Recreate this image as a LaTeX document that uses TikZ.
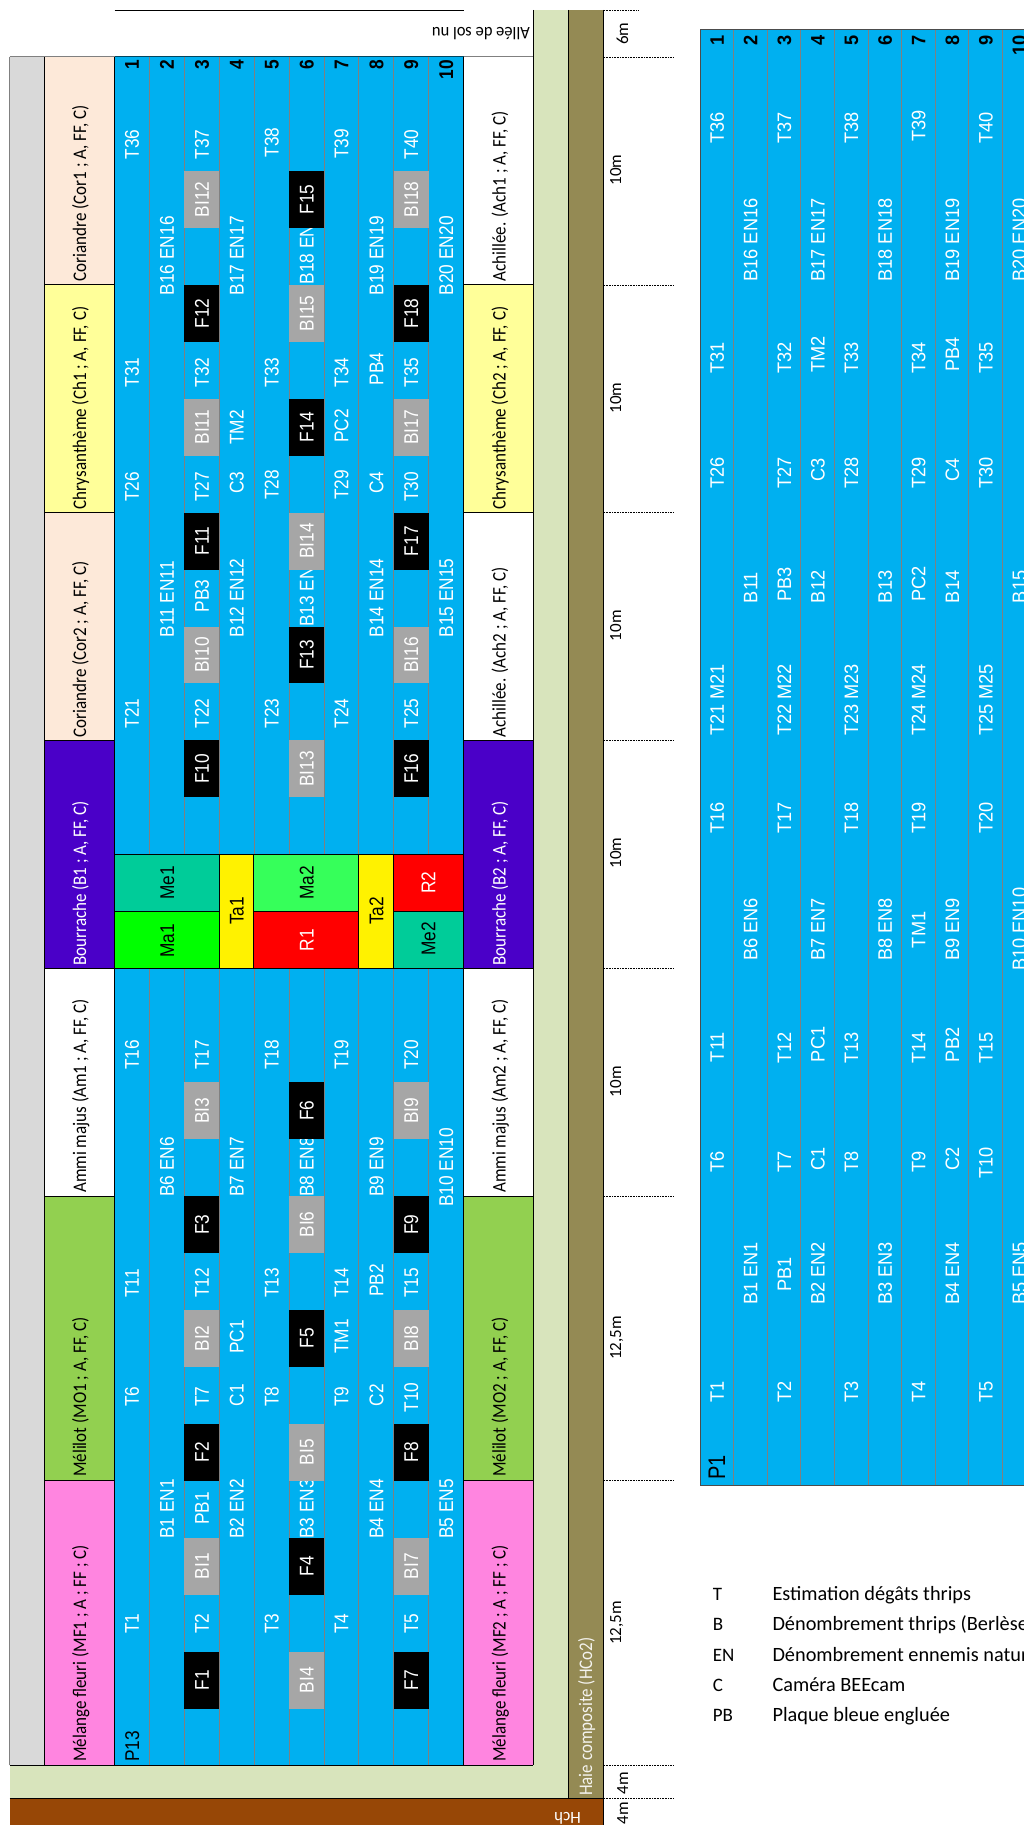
\documentclass[tikz,border=0pt]{standalone}
\usepackage{fontspec}
\usepackage{graphicx}
\setmainfont{Liberation Sans}
\newfontfamily\calfont{Carlito}
\definecolor{cblue}{HTML}{00B0F0}
\definecolor{cgray}{HTML}{D9D9D9}
\definecolor{cbi}{HTML}{A6A6A6}
\definecolor{cpale}{HTML}{D8E4BC}
\definecolor{colive}{HTML}{948A54}
\definecolor{cbrown}{HTML}{974706}
\definecolor{ccor}{HTML}{FDE9D9}
\definecolor{cch}{HTML}{FFFF99}
\definecolor{cbou}{HTML}{4A00C8}
\definecolor{cmel}{HTML}{92D050}
\definecolor{cmix}{HTML}{FF85E0}
\definecolor{cme}{HTML}{00CC99}
\definecolor{cma}{HTML}{00FF00}
\definecolor{cmb}{HTML}{36FF5A}
\tikzset{
  rtxt/.style={inner sep=0pt,rotate=90,anchor=base west,text=white},
  ctxt/.style={inner sep=0pt,rotate=90,anchor=base,text=white},
  numtxt/.style={inner sep=0pt,rotate=90,anchor=base east,text=black},
  hline/.style={draw=black,line width=.9pt},
  rowline/.style={draw=gray,line width=.8pt},
  tick/.style={draw=black,line width=.6pt,densely dotted},
  blockbox/.style={draw=black,line width=.8pt}
}
\newcommand{\Lfont}{\fontsize{17.3}{20}\selectfont}
\newcommand{\Rfont}{\fontsize{18.2}{20}\selectfont}
\newcommand{\Hfont}{\calfont\fontsize{17}{20}\selectfont}
\newcommand{\Lt}[3]{\pgfmathsetmacro\xx{114.5+34.91*(#1-.5)+7}\node[rtxt] at (\xx,#2) {\scalebox{1}[1.15]{\Lfont #3}};}
\newcommand{\Rt}[3]{\pgfmathsetmacro\xx{700+33.6*(#1-.5)+7}\node[rtxt] at (\xx,#2) {\scalebox{1}[1.07]{\Rfont #3}};}
\newcommand{\CF}[3]{\pgfmathsetmacro\xa{114.5+34.91*(#1-1)}\pgfmathsetmacro\xb{\xa+34.91}\pgfmathsetmacro\ya{57+56.95*#2}\pgfmathsetmacro\yb{\ya+56.95}\pgfmathsetmacro\xc{\xa+17.45+7}\pgfmathsetmacro\yc{\ya+28.5}%
  \fill[black] (\xa,\ya) rectangle (\xb,\yb);\node[ctxt] at (\xc,\yc) {\scalebox{1}[1.15]{\Lfont #3}};}
\newcommand{\CB}[3]{\pgfmathsetmacro\xa{114.5+34.91*(#1-1)}\pgfmathsetmacro\xb{\xa+34.91}\pgfmathsetmacro\ya{57+56.95*#2}\pgfmathsetmacro\yb{\ya+56.95}\pgfmathsetmacro\xc{\xa+17.45+7}\pgfmathsetmacro\yc{\ya+28.5}%
  \fill[cbi] (\xa,\ya) rectangle (\xb,\yb);\node[ctxt] at (\xc,\yc) {\scalebox{1}[1.15]{\Lfont #3}};}
\begin{document}
\begin{tikzpicture}[x=1pt,y=-1pt]
\useasboundingbox (0,0) rectangle (1024,1825);
\clip (0,0) rectangle (1024,1825);
\fill[white] (0,0) rectangle (1024,1825);
% ground bands
\fill[cpale] (533.4,10) rectangle (568.5,1798);
\fill[cpale] (9.5,1765.4) rectangle (533.4,1798);
\fill[colive] (568.5,10) rectangle (603.6,1798);
\fill[cbrown] (9.5,1798) rectangle (603.6,1825);
\fill[cgray] (9.5,57) rectangle (44.2,1765.4);
\fill[cblue] (114.5,57) rectangle (463.6,1765.4);
% headers
\foreach \ya/\yb/\ca/\cb in {57/284.8/ccor/white,284.8/512.6/cch/cch,512.6/740.4/ccor/white,740.4/968.2/cbou/cbou,968.2/1196/white/white,1196/1480.7/cmel/cmel,1480.7/1765.4/cmix/cmix}{
  \fill[\ca] (44.2,\ya) rectangle (114.5,\yb);
  \fill[\cb] (463.6,\ya) rectangle (533.4,\yb);
}
% row lines
\foreach \i in {1,...,9}{
  \pgfmathsetmacro\xx{114.5+34.91*\i}
  \draw[rowline] (\xx,57) -- (\xx,1765.4);
}
% centre blocks
\draw[blockbox,fill=cme] (114.5,854.2) rectangle (219,911.2);
\draw[blockbox,fill=cma] (114.5,911.2) rectangle (219,968.2);
\draw[blockbox,fill=yellow] (219,854.2) rectangle (253.7,968.2);
\draw[blockbox,fill=cmb] (253.7,854.2) rectangle (358.6,911.2);
\draw[blockbox,fill=red] (253.7,911.2) rectangle (358.6,968.2);
\draw[blockbox,fill=yellow] (358.6,854.2) rectangle (393.3,968.2);
\draw[blockbox,fill=red] (393.3,854.2) rectangle (463.6,911.2);
\draw[blockbox,fill=cme] (393.3,911.2) rectangle (463.6,968.2);
\node[ctxt,text=black] (me1) at (174,882.7) {\scalebox{1}[1.15]{\Lfont Me1}};
\node[ctxt,text=black] (ma1) at (174,940.8) {\scalebox{1}[1.15]{\Lfont Ma1}};
\node[ctxt,text=black] (ta1) at (243.7,911) {\scalebox{1}[1.15]{\Lfont Ta1}};
\node[ctxt,text=black] (ma2) at (313.6,882.7) {\scalebox{1}[1.15]{\Lfont Ma2}};
\node[ctxt] (r1) at (313.6,940) {\scalebox{1}[1.15]{\Lfont R1}};
\node[ctxt,text=black] (ta2) at (383.4,911) {\scalebox{1}[1.15]{\Lfont Ta2}};
\node[ctxt] (r2) at (435.4,882.7) {\scalebox{1}[1.15]{\Lfont R2}};
\node[ctxt,text=black] (me2) at (435.4,939) {\scalebox{1}[1.15]{\Lfont Me2}};
% header labels
\foreach \yy/\tx/\co in {281.5/{Coriandre (Cor1 ; A, FF, C)}/black,509.3/{Chrysanthème (Ch1 ; A, FF, C)}/black,737.6/{Coriandre (Cor2 ; A, FF, C)}/black,965.8/{Bourrache (B1 ; A, FF, C)}/white,1193/{Ammi majus (Am1 ; A, FF, C)}/black,1477/{Mélilot (MO1 ; A, FF, C)}/black,1762/{Mélange fleuri (MF1 ; A ; FF ; C)}/black}{
  \node[rtxt,text=\co] at (86,\yy) {\scalebox{1}[1.13]{\Hfont\tx}};
}
\foreach \yy/\tx/\co in {281.5/{Achillée. (Ach1 ; A, FF, C)}/black,509.3/{Chrysanthème (Ch2 ; A, FF, C)}/black,737.6/{Achillée. (Ach2 ; A, FF, C)}/black,965.8/{Bourrache (B2 ; A, FF, C)}/white,1193/{Ammi majus (Am2 ; A, FF, C)}/black,1477/{Mélilot (MO2 ; A, FF, C)}/black,1762/{Mélange fleuri (MF2 ; A ; FF ; C)}/black}{
  \node[rtxt,text=\co] at (505.5,\yy) {\scalebox{1}[1.13]{\Hfont\tx}};
}
% left texts
\Lt{1}{1634}{T1}\Lt{1}{1407}{T6}\Lt{1}{1298}{T11}\Lt{1}{1070}{T16}\Lt{1}{728.5}{T21}\Lt{1}{502}{T26}\Lt{1}{387.5}{T31}\Lt{1}{159.4}{T36}
\Lt{2}{1539}{B1 EN1}\Lt{2}{1197}{B6 EN6}\Lt{2}{637.6}{B11 EN11}\Lt{2}{295.4}{B16 EN16}
\Lt{3}{1634}{T2}\Lt{3}{1525}{PB1}\Lt{3}{1407}{T7}\Lt{3}{1298}{T12}\Lt{3}{1070}{T17}\Lt{3}{728.5}{T22}\Lt{3}{612.6}{PB3}\Lt{3}{502}{T27}\Lt{3}{387.5}{T32}\Lt{3}{159.4}{T37}
\Lt{4}{1539}{B2 EN2}\Lt{4}{1406.5}{C1}\Lt{4}{1354}{PC1}\Lt{4}{1197}{B7 EN7}\Lt{4}{637.6}{B12 EN12}\Lt{4}{494}{C3}\Lt{4}{444.8}{TM2}\Lt{4}{295.4}{B17 EN17}
\Lt{5}{1634}{T3}\Lt{5}{1407}{T8}\Lt{5}{1298}{T13}\Lt{5}{1070}{T18}\Lt{5}{728.5}{T23}\Lt{5}{500}{T28}\Lt{5}{387.5}{T33}\Lt{5}{157.4}{T38}
\Lt{6}{1539}{B3 EN3}\Lt{6}{1197}{B8 EN8}\Lt{6}{626.9}{B13 EN}\Lt{6}{284.7}{B18 EN}
\Lt{7}{1634}{T4}\Lt{7}{1407}{T9}\Lt{7}{1354}{TM1}\Lt{7}{1298}{T14}\Lt{7}{1070}{T19}\Lt{7}{728.5}{T24}\Lt{7}{500}{T29}\Lt{7}{443}{PC2}\Lt{7}{387.5}{T34}\Lt{7}{159}{T39}
\Lt{8}{1539}{B4 EN4}\Lt{8}{1406.5}{C2}\Lt{8}{1297}{PB2}\Lt{8}{1197}{B9 EN9}\Lt{8}{637.6}{B14 EN14}\Lt{8}{494}{C4}\Lt{8}{385.5}{PB4}\Lt{8}{295.4}{B19 EN19}
\Lt{9}{1634}{T5}\Lt{9}{1412.4}{T10}\Lt{9}{1298}{T15}\Lt{9}{1070}{T20}\Lt{9}{728.5}{T25}\Lt{9}{502}{T30}\Lt{9}{387.5}{T35}\Lt{9}{159.4}{T40}
\Lt{10}{1539}{B5 EN5}\Lt{10}{1207}{B10 EN10}\Lt{10}{637.6}{B15 EN15}\Lt{10}{295.4}{B20 EN20}
\node[rtxt,text=black] (p13) at (139,1762) {\scalebox{1}[1.15]{\Lfont P13}};
% numbers
\foreach \i in {1,...,10}{
  \pgfmathsetmacro\xx{114.5+34.91*(\i-.5)+7}
  \node[numtxt] at (\xx,60) {\scalebox{1}[1.15]{\Lfont\bfseries\i}};
}
% sample cells
\CF{3}{28}{F1}\CB{3}{26}{BI1}\CF{3}{24}{F2}\CB{3}{22}{BI2}\CF{3}{20}{F3}\CB{3}{18}{BI3}\CF{3}{12}{F10}\CB{3}{10}{BI10}\CF{3}{8}{F11}\CB{3}{6}{BI11}\CF{3}{4}{F12}\CB{3}{2}{BI12}
\CB{6}{28}{BI4}\CF{6}{26}{F4}\CB{6}{24}{BI5}\CF{6}{22}{F5}\CB{6}{20}{BI6}\CF{6}{18}{F6}\CB{6}{12}{BI13}\CF{6}{10}{F13}\CB{6}{8}{BI14}\CF{6}{6}{F14}\CB{6}{4}{BI15}\CF{6}{2}{F15}
\CF{9}{28}{F7}\CB{9}{26}{BI7}\CF{9}{24}{F8}\CB{9}{22}{BI8}\CF{9}{20}{F9}\CB{9}{18}{BI9}\CF{9}{12}{F16}\CB{9}{10}{BI16}\CF{9}{8}{F17}\CB{9}{6}{BI17}\CF{9}{4}{F18}\CB{9}{2}{BI18}
% black frame lines
\draw[hline] (114.5,10.3) -- (463.6,10.3);
\draw[hline] (44.2,57) -- (44.2,1765.4);
\draw[hline] (114.5,57) -- (114.5,1765.4);
\draw[hline] (463.6,57) -- (463.6,1765.4);
\draw[hline] (533.4,10) -- (533.4,1765.4);
\draw[hline] (568.5,10) -- (568.5,1798);
\draw[hline] (603.6,10) -- (603.6,1825);
\foreach \yy in {284.8,512.6,740.4,968.2,1196,1480.7}{
  \draw[hline] (44.2,\yy) -- (114.5,\yy);
  \draw[hline] (463.6,\yy) -- (533.4,\yy);
}
\draw[hline] (9.5,1765.4) -- (533.4,1765.4);
\draw[hline] (9.5,1798) -- (603.6,1798);
\draw[draw=gray,line width=1pt] (9.5,57) -- (114.5,57);
\draw[draw=gray,line width=1pt] (463.6,57) -- (533.4,57);
\draw[draw=black!60!cblue,line width=1pt] (114.5,57) -- (463.6,57);
\draw[draw=gray,line width=.8pt] (9.5,57) -- (9.5,1765.4);
% bands text
\node[rtxt,text=white!90!colive] (haie) at (592,1796) {\scalebox{1}[1.13]{\Hfont Haie composite (HCo2)}};
\node[inner sep=0pt,rotate=180,anchor=base west,text=black] (allee) at (530,28) {\scalebox{.97}[1.04]{\Hfont Allée de sol nu}};
\node[inner sep=0pt,rotate=180,anchor=base east,text=white] (hch) at (554,1812) {\Hfont Hch};
% ticks
\foreach \yy in {57,284.8,512.6,740.4,968.2,1196,1480.7,1765.4,1798}{
  \draw[tick] (604,\yy) -- (673.5,\yy);
}
\draw[tick] (604,10) -- (639,10);
\foreach \xx/\yy/\tx in {628/33.6/6m,621/170/10m,621/398/10m,621/625.7/10m,621/853/10m,621/1081.6/10m,621/1338/{12,5m},621/1623/{12,5m},628/1783/4m,628/1813/4m}{
  \node[ctxt,text=black] at (\xx,\yy) {\Hfont\tx};
}
% right table
\fill[cblue] (700,30) rectangle (1036,1485.4);
\foreach \i in {1,...,10}{
  \pgfmathsetmacro\xx{700+33.6*\i}
  \draw[rowline] (\xx,30) -- (\xx,1485.4);
}
\draw[draw=black!70,line width=1pt] (1036,30) -- (700,30) -- (700,1485.4) -- (1036,1485.4);
\Rt{1}{1402.5}{T1}\Rt{1}{1172.7}{T6}\Rt{1}{1062.3}{T11}\Rt{1}{834}{T16}\Rt{1}{736}{T21 M21}\Rt{1}{489}{T26}\Rt{1}{374}{T31}\Rt{1}{144}{T36}
\Rt{2}{1305}{B1 EN1}\Rt{2}{961}{B6 EN6}\Rt{2}{603.3}{B11}\Rt{2}{281.7}{B16 EN16}
\Rt{3}{1402.5}{T2}\Rt{3}{1291.7}{PB1}\Rt{3}{1172.7}{T7}\Rt{3}{1064}{T12}\Rt{3}{834}{T17}\Rt{3}{736}{T22 M22}\Rt{3}{601.7}{PB3}\Rt{3}{489}{T27}\Rt{3}{374}{T32}\Rt{3}{144}{T37}
\Rt{4}{1305}{B2 EN2}\Rt{4}{1171}{C1}\Rt{4}{1062.3}{PC1}\Rt{4}{961}{B7 EN7}\Rt{4}{603.3}{B12}\Rt{4}{481.7}{C3}\Rt{4}{372.7}{TM2}\Rt{4}{281.7}{B17 EN17}
\Rt{5}{1402.5}{T3}\Rt{5}{1172.7}{T8}\Rt{5}{1064}{T13}\Rt{5}{834}{T18}\Rt{5}{736}{T23 M23}\Rt{5}{489}{T28}\Rt{5}{374}{T33}\Rt{5}{144}{T38}
\Rt{6}{1305}{B3 EN3}\Rt{6}{961}{B8 EN8}\Rt{6}{603.3}{B13}\Rt{6}{281.7}{B18 EN18}
\Rt{7}{1402.5}{T4}\Rt{7}{1172.7}{T9}\Rt{7}{1064}{T14}\Rt{7}{948.3}{TM1}\Rt{7}{834}{T19}\Rt{7}{736}{T24 M24}\Rt{7}{601.7}{PC2}\Rt{7}{489}{T29}\Rt{7}{374}{T34}\Rt{7}{141.7}{T39}
\Rt{8}{1305}{B4 EN4}\Rt{8}{1171}{C2}\Rt{8}{1062.3}{PB2}\Rt{8}{961}{B9 EN9}\Rt{8}{603.3}{B14}\Rt{8}{481.7}{C4}\Rt{8}{371.7}{PB4}\Rt{8}{281.7}{B19 EN19}
\Rt{9}{1402.5}{T5}\Rt{9}{1179}{T10}\Rt{9}{1064}{T15}\Rt{9}{834}{T20}\Rt{9}{736}{T25 M25}\Rt{9}{489}{T30}\Rt{9}{374}{T35}\Rt{9}{144}{T40}
\Rt{10}{1305}{B5 EN5}\Rt{10}{971}{B10 EN10}\Rt{10}{603.3}{B15}\Rt{10}{281.7}{B20 EN20}
\node[rtxt,text=black] (p1) at (725,1480) {\scalebox{1}[1.2]{\fontsize{20}{20}\selectfont P1}};
\foreach \i in {1,...,10}{
  \pgfmathsetmacro\xx{700+33.6*(\i-.5)+7}
  \node[numtxt] at (\xx,35) {\scalebox{1}[1.07]{\Rfont\bfseries\i}};
}
% legend
\foreach \yy/\ka/\kb in {1594.7/T/Estimation dégâts thrips,1624.7/B/Dénombrement thrips (Berlèse,1655/EN/Dénombrement ennemis natur,1685/C/Caméra BEEcam,1715/PB/Plaque bleue engluée}{
  \node[inner sep=0pt,anchor=base west] at (712.7,\yy+6) {\calfont\fontsize{19}{20}\selectfont \ka};
  \node[inner sep=0pt,anchor=base west] at (772.3,\yy+6) {\calfont\fontsize{20.3}{20}\selectfont \kb};
}
\end{tikzpicture}
\end{document}
